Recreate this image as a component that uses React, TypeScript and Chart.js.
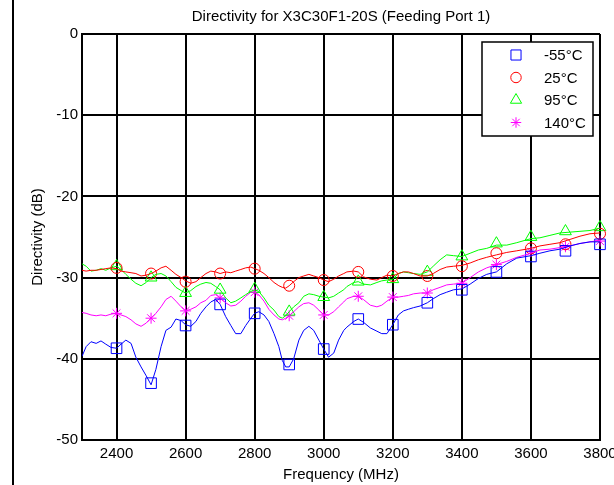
import React, { useEffect, useRef } from 'react';
import { Chart, registerables } from 'chart.js';

Chart.register(...registerables);

// Frequency grid (MHz) for the measured traces
const freqs = [
  2300, 2312, 2326, 2341, 2355, 2369, 2384, 2400, 2413, 2427, 2442, 2456, 2471, 2486,
  2500, 2514, 2529, 2543, 2558, 2572, 2587, 2600, 2615, 2630, 2644, 2659, 2673, 2687,
  2700, 2716, 2731, 2745, 2760, 2774, 2789, 2800, 2812, 2827, 2841, 2856, 2870, 2880,
  2890, 2900, 2913, 2928, 2942, 2957, 2971, 2986, 3000, 3014, 3029, 3043, 3058, 3067,
  3087, 3100, 3115, 3135, 3154, 3168, 3183, 3200, 3216, 3231, 3245, 3260, 3279, 3300,
  3317, 3337, 3356, 3376, 3400, 3424, 3448, 3472, 3500, 3530, 3559, 3600, 3626, 3655,
  3684, 3713, 3742, 3771, 3800,
];

const lineM55 = [
  -39.7, -38.5, -37.9, -38.1, -37.8, -38.2, -38.6, -38.7, -38.2, -37.7, -38.1, -39.8, -41.0, -42.1,
  -43.2, -41.3, -38.5, -36.5, -36.1, -35.1, -35.3, -35.8, -36.0, -35.4, -34.4, -33.6, -33.0, -32.7,
  -33.3, -34.8, -35.9, -36.9, -36.9, -35.9, -35.0, -34.4, -34.2, -34.6, -35.4, -36.9, -38.5, -40.2,
  -41.0, -41.0, -40.0, -37.7, -36.5, -36.0, -36.5, -37.7, -38.8, -39.8, -39.3, -37.7, -36.5, -36.1,
  -35.4, -35.1, -35.5, -36.2, -36.6, -36.9, -36.9, -35.8, -34.6, -34.1, -33.9, -33.7, -33.5, -33.1,
  -32.6, -32.1, -31.8, -31.5, -31.4, -30.8, -30.1, -29.6, -29.3, -28.3, -27.6, -27.3, -27.0, -26.7,
  -26.5, -26.1, -25.8, -25.6, -25.6,
];

const line25 = [
  -29.1, -29.2, -29.1, -29.1, -29.0, -28.9, -28.8, -28.9, -29.2, -29.3, -29.4, -29.5, -29.8, -29.7,
  -29.5, -29.2, -28.8, -28.6, -29.1, -29.6, -30.0, -30.4, -30.7, -30.5, -30.0, -29.5, -29.2, -29.3,
  -29.5, -29.3, -29.4, -29.2, -29.0, -28.8, -28.7, -28.9, -29.1, -29.5, -30.0, -30.6, -31.0, -31.2,
  -31.3, -31.0, -30.5, -30.0, -29.8, -29.6, -29.8, -30.0, -30.3, -30.5, -30.2, -29.8, -29.5, -29.3,
  -29.2, -29.3, -29.9, -30.2, -30.3, -30.0, -29.7, -29.8, -29.5, -29.3, -29.3, -29.5, -29.8, -29.8,
  -29.5, -29.0, -28.7, -28.6, -28.5, -28.2, -27.8, -27.5, -27.2, -26.9, -26.7, -26.4, -26.1, -25.9,
  -25.7, -25.3, -24.9, -24.6, -24.5,
];

const line95 = [
  -28.3, -28.6, -29.2, -29.1, -28.9, -29.1, -28.8, -28.6, -29.0, -29.6, -30.2, -30.7, -31.0, -30.6,
  -30.0, -29.6, -29.5, -29.8, -30.5, -31.2, -31.6, -31.9, -31.6, -31.1, -30.8, -30.6, -30.7, -31.1,
  -31.5, -32.5, -33.1, -32.9, -32.5, -32.1, -31.7, -31.5, -31.7, -32.5, -33.4, -34.0, -34.8, -35.0,
  -34.7, -34.2, -33.6, -33.1, -32.3, -32.0, -32.1, -32.3, -32.4, -32.5, -32.3, -31.9, -31.5, -31.1,
  -30.6, -30.5, -30.8, -30.9, -30.6, -30.4, -30.3, -30.2, -29.5, -29.3, -29.4, -29.5, -29.6, -29.3,
  -28.6, -27.8, -27.2, -27.3, -27.4, -27.0, -26.6, -26.4, -26.0, -26.0, -25.7, -25.2, -25.1, -24.8,
  -24.5, -24.4, -24.3, -24.2, -23.9,
];

const line140 = [
  -34.3, -34.4, -34.6, -34.7, -34.6, -34.7, -34.5, -34.4, -34.6, -34.8, -35.2, -35.7, -36.0, -35.6,
  -35.0, -34.4, -33.6, -32.7, -32.3, -32.9, -33.6, -34.1, -33.9, -33.6, -33.1, -32.8, -32.2, -32.1,
  -32.5, -33.1, -33.5, -33.4, -32.9, -32.3, -31.8, -31.8, -32.1, -32.9, -33.9, -34.6, -35.1, -35.2,
  -35.0, -34.7, -34.2, -33.6, -33.2, -33.1, -33.4, -34.0, -34.6, -34.6, -34.2, -33.6, -33.0, -32.6,
  -32.3, -32.3, -32.7, -33.4, -33.6, -33.4, -32.9, -32.4, -32.4, -32.3, -32.2, -32.0, -31.9, -31.9,
  -31.5, -31.2, -30.9, -30.8, -30.7, -30.0, -29.3, -28.8, -28.4, -28.0, -27.5, -27.0, -26.6, -26.5,
  -26.3, -26.1, -25.8, -25.6, -25.4,
];

// Marker positions (every 100 MHz)
const markerFreqs = [2400, 2500, 2600, 2700, 2800, 2900, 3000, 3100, 3200, 3300, 3400, 3500, 3600, 3700, 3800];
const markM55 = [-38.7, -43.0, -35.9, -33.3, -34.4, -40.7, -38.8, -35.1, -35.8, -33.1, -31.5, -29.3, -27.4, -26.7, -25.9];
const mark25 = [-28.8, -29.5, -30.5, -29.5, -28.9, -31.0, -30.3, -29.3, -29.8, -29.8, -28.6, -27.0, -26.4, -25.9, -24.6];
const mark95 = [-28.6, -30.0, -31.9, -31.5, -31.4, -34.2, -32.4, -30.5, -30.2, -29.3, -27.4, -25.8, -25.0, -24.3, -23.8];
const mark140 = [-34.4, -35.0, -34.1, -32.5, -31.8, -34.7, -34.6, -32.3, -32.4, -31.9, -30.7, -28.4, -26.8, -26.2, -25.5];

const xTicks = [2400, 2600, 2800, 3000, 3200, 3400, 3600, 3800];
const yTicks = [0, -10, -20, -30, -40, -50];
const seriesLabels = ['-55°C', '25°C', '95°C', '140°C'];
const seriesColors = ['#0000ff', '#ff0000', '#00ff00', '#ff00ff'];
const seriesStyles = ['rect', 'circle', 'triangle', 'star'];
const seriesRadius = [7.5, 5.5, 6.8, 5.5];

const titleText = 'Directivity for X3C30F1-20S (Feeding Port 1)';
const xTitle = 'Frequency (MHz)';
const yTitle = 'Directivity (dB)';

const FONT = '"Liberation Sans", Arial, Helvetica, sans-serif';

function drawMarker(ctx: CanvasRenderingContext2D, style: string, x: number, y: number, r: number) {
  ctx.beginPath();
  if (style === 'rect') {
    const s = Math.SQRT1_2 * r;
    ctx.rect(x - s, y - s, 2 * s, 2 * s);
  } else if (style === 'circle') {
    ctx.arc(x, y, r, 0, Math.PI * 2);
  } else if (style === 'triangle') {
    let a = 0;
    ctx.moveTo(x + Math.sin(a) * r, y - Math.cos(a) * r);
    a += (2 * Math.PI) / 3;
    ctx.lineTo(x + Math.sin(a) * r, y - Math.cos(a) * r);
    a += (2 * Math.PI) / 3;
    ctx.lineTo(x + Math.sin(a) * r, y - Math.cos(a) * r);
    ctx.closePath();
  } else if (style === 'star') {
    ctx.moveTo(x - r, y);
    ctx.lineTo(x + r, y);
    ctx.moveTo(x, y - r);
    ctx.lineTo(x, y + r);
    const d = r * Math.SQRT1_2;
    ctx.moveTo(x - d, y - d);
    ctx.lineTo(x + d, y + d);
    ctx.moveTo(x - d, y + d);
    ctx.lineTo(x + d, y - d);
  }
  ctx.stroke();
}

const decorPlugin = {
  id: 'decor',
  beforeDraw(chart: any) {
    const ctx = chart.ctx;
    ctx.save();
    ctx.fillStyle = '#ffffff';
    ctx.fillRect(0, 0, chart.width, chart.height);
    ctx.restore();
  },
  afterDraw(chart: any) {
    const ctx: CanvasRenderingContext2D = chart.ctx;
    const area = chart.chartArea;
    ctx.save();
    // figure frame line on the left
    ctx.fillStyle = '#000000';
    ctx.fillRect(12, 0, 2, chart.height);
    // chart title, centred over the plot area
    ctx.font = '15px ' + FONT;
    ctx.textAlign = 'center';
    ctx.textBaseline = 'middle';
    ctx.fillText(titleText, (area.left + area.right) / 2, 17);
    // legend box
    const bw = 111;
    const bh = 94;
    const bx = area.right - 7 - bw;
    const by = area.top + 8;
    ctx.fillStyle = '#ffffff';
    ctx.fillRect(bx, by, bw, bh);
    ctx.strokeStyle = '#000000';
    ctx.lineWidth = 1.5;
    ctx.strokeRect(bx, by, bw, bh);
    ctx.font = '15px ' + FONT;
    ctx.textBaseline = 'middle';
    ctx.textAlign = 'left';
    for (let i = 0; i < seriesLabels.length; i++) {
      const cy = by + 13 + i * 22.5;
      ctx.strokeStyle = seriesColors[i];
      ctx.lineWidth = 1;
      drawMarker(ctx, seriesStyles[i], bx + 34, cy, seriesRadius[i] * 0.95);
      ctx.fillStyle = '#000000';
      ctx.fillText(seriesLabels[i], bx + 62, cy + 1);
    }
    ctx.restore();
  },
};

export default function App() {
  const ref = useRef<HTMLCanvasElement | null>(null);

  useEffect(() => {
    if (!ref.current) return;
    Chart.defaults.font.family = FONT;
    Chart.defaults.font.size = 15;
    Chart.defaults.color = '#000000';

    const series = [lineM55, line25, line95, line140];
    const marks = [markM55, mark25, mark95, mark140];

    const lineSets = series.map((vals, i) => ({
      label: seriesLabels[i] + ' trace',
      data: freqs.map((f, j) => ({ x: f, y: vals[j] })),
      borderColor: seriesColors[i],
      borderWidth: 1,
      pointRadius: 0,
      tension: 0,
      fill: false,
    }));
    const markSets = marks.map((vals, i) => ({
      label: seriesLabels[i],
      data: markerFreqs.map((f, j) => ({ x: f, y: vals[j] })),
      showLine: false,
      borderColor: seriesColors[i],
      backgroundColor: 'rgba(0,0,0,0)',
      pointStyle: seriesStyles[i],
      pointRadius: seriesRadius[i],
      pointBorderWidth: 1,
      borderWidth: 1,
      clip: false,
    }));

    const chart = new Chart(ref.current, {
      type: 'line',
      data: { datasets: [...lineSets, ...markSets] as any },
      options: {
        animation: false,
        responsive: false,
        devicePixelRatio: 1,
        layout: { padding: { left: 0, right: 0, top: 34, bottom: 0 } },
        plugins: {
          legend: { display: false },
          tooltip: { enabled: false },
          title: { display: false },
        },
        scales: {
          x: {
            type: 'linear',
            min: 2300,
            max: 3800,
            afterBuildTicks: (scale: any) => {
              scale.ticks = xTicks.map((v) => ({ value: v }));
            },
            afterFit: (scale: any) => {
              scale.height = 45;
              scale.paddingRight = 14;
              scale.paddingLeft = 0;
            },
            ticks: {
              autoSkip: false,
              maxRotation: 0,
              padding: 5,
              color: '#000000',
              font: { size: 15, family: FONT },
              callback: (v: any) => String(v),
            },
            grid: { color: '#000000', lineWidth: 2, drawTicks: false },
            border: { display: true, color: '#000000', width: 2 },
            title: {
              display: true,
              text: xTitle,
              color: '#000000',
              font: { size: 15, family: FONT },
              padding: { top: 0, bottom: 1 },
            },
          },
          y: {
            type: 'linear',
            min: -50,
            max: 0,
            afterBuildTicks: (scale: any) => {
              scale.ticks = yTicks.map((v) => ({ value: v }));
            },
            afterFit: (scale: any) => {
              scale.width = 82;
              scale.paddingTop = 0;
            },
            ticks: {
              autoSkip: false,
              padding: 4,
              color: '#000000',
              font: { size: 15, family: FONT },
              callback: (v: any) => String(v),
            },
            grid: { color: '#000000', lineWidth: 2, drawTicks: false },
            border: { display: true, color: '#000000', width: 2 },
            title: {
              display: true,
              text: yTitle,
              color: '#000000',
              font: { size: 15, family: FONT },
              padding: { top: 29, bottom: 0 },
            },
          },
        },
      } as any,
      plugins: [decorPlugin],
    });

    return () => {
      chart.destroy();
    };
  }, []);

  return (
    <div style={{ position: 'absolute', left: 0, top: 0, width: 614, height: 485 }}>
      <canvas
        ref={ref}
        width={614}
        height={485}
        style={{ display: 'block', width: 614, height: 485 }}
      />
    </div>
  );
}
